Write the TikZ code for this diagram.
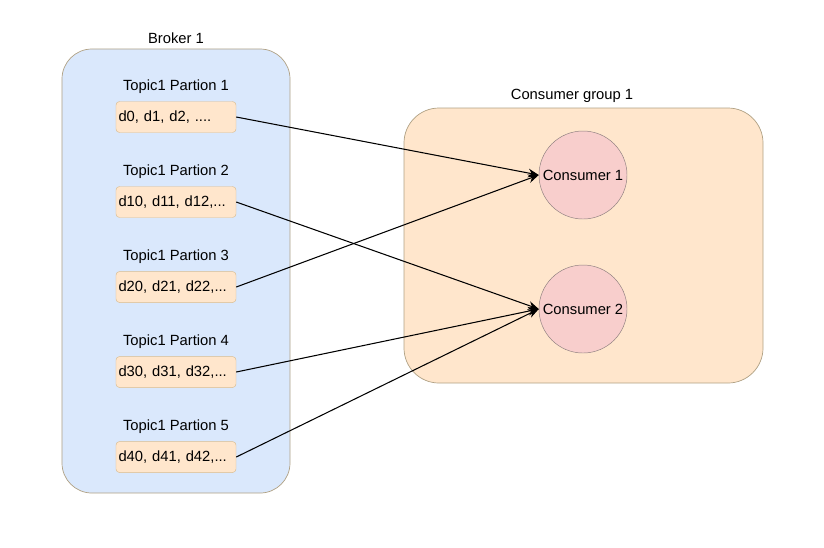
\documentclass[tikz,border=0pt]{standalone}
\usepackage{fontspec}
\setmainfont{Liberation Sans}
\usetikzlibrary{positioning,arrows.meta}
\definecolor{brokerfill}{HTML}{DAE8FC}
\definecolor{boxline}{HTML}{B0A184}
\definecolor{datafill}{HTML}{FFE6CC}
\definecolor{dataline}{HTML}{D9BC8F}
\definecolor{groupfill}{HTML}{FFE6CC}
\definecolor{consfill}{HTML}{F8CECC}
\definecolor{consline}{HTML}{8E7F7F}
\begin{document}
\begin{tikzpicture}[x=0.03cm,y=-0.03cm,node distance=2.55cm,
  font=\fontsize{12.6}{15}\selectfont,
  group box/.style={rectangle,draw=boxline,line width=0.6pt},
  data node/.style={rectangle,draw=dataline,fill=datafill,rounded corners=3pt,
    text width=3.45cm,inner xsep=0.075cm,minimum height=0.93cm,align=left},
  consumer node/.style={circle,draw=consline,fill=consfill,minimum size=2.64cm,inner sep=0pt},
  flow/.style={-{Stealth[length=3.2mm,width=2.6mm]},line width=0.9pt}]
  \useasboundingbox (0,0) rectangle (824,547);

  \node[group box,fill=brokerfill,rounded corners=0.9cm,minimum width=6.84cm,minimum height=13.32cm] (broker) at (176,271) {};
  \node (broker label) [above=0.02cm of broker] {Broker 1};

  \node[group box,fill=groupfill,rounded corners=1.05cm,minimum width=10.77cm,minimum height=8.25cm] (group) at (583.5,245.5) {};
  \node (group label) at (572,96) {Consumer group 1};

  \node[data node] (d1) at (176,117) {d0, d1, d2, ....};
  \node[data node] (d2) [below of=d1] {d10, d11, d12,...};
  \node[data node] (d3) [below of=d2] {d20, d21, d22,...};
  \node[data node] (d4) [below of=d3] {d30, d31, d32,...};
  \node[data node] (d5) [below of=d4] {d40, d41, d42,...};

  \node (p1) [above=0.12cm of d1] {Topic1 Partion 1};
  \node (p2) [above=0.12cm of d2] {Topic1 Partion 2};
  \node (p3) [above=0.12cm of d3] {Topic1 Partion 3};
  \node (p4) [above=0.12cm of d4] {Topic1 Partion 4};
  \node (p5) [above=0.12cm of d5] {Topic1 Partion 5};

  \node[consumer node] (c1) at (583,175) {Consumer 1};
  \node[consumer node] (c2) at (583,309) {Consumer 2};

  \path[flow]
    (d1.east) edge (c1.west)
    (d2.east) edge (c2.west)
    (d3.east) edge (c1.west)
    (d4.east) edge (c2.west)
    (d5.east) edge (c2.west);
\end{tikzpicture}
\end{document}
